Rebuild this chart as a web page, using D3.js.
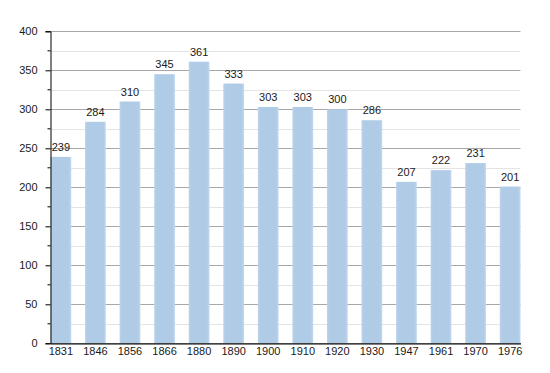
<!DOCTYPE html>
<html><head><meta charset="utf-8">
<script src="https://cdn.jsdelivr.net/npm/d3@7"></script>
<style>
html,body{margin:0;padding:0;background:#fff;}
text{font-family:"Liberation Sans",Arial,sans-serif;font-size:11px;fill:#1a1a1a;}
</style></head>
<body><svg id="c" width="550" height="373"></svg>
<script>
const years = ["1831","1846","1856","1866","1880","1890","1900","1910","1920","1930","1947","1961","1970","1976"];
const population = [239,284,310,345,361,333,303,303,300,286,207,222,231,201];
const majorTicks = [0,50,100,150,200,250,300,350,400];
const minorTicks = [25,75,125,175,225,275,325,375];

(function(){
const svg = d3.select("#c");
const pl = 50.5, pr = 520.5, pt = 31.3, pb = 343.3;

const x = d3.scaleBand().domain(years).range([pl, pr]).paddingInner(0.4).paddingOuter(0);
const y = d3.scaleLinear().domain([0,400]).range([pb, pt]);

const defs = svg.append("defs");
const g = defs.append("linearGradient").attr("id","bg").attr("x1","0").attr("x2","1").attr("y1","0").attr("y2","0");
g.append("stop").attr("offset","0").attr("stop-color","#bcd3ea");
g.append("stop").attr("offset","0.12").attr("stop-color","#afcbe6");
g.append("stop").attr("offset","0.88").attr("stop-color","#afcbe6");
g.append("stop").attr("offset","1").attr("stop-color","#c3d8ee");

// grid
svg.append("g").selectAll("line").data(minorTicks).join("line")
  .attr("x1", pl).attr("x2", pr)
  .attr("y1", d => Math.round(y(d)) + 0.5).attr("y2", d => Math.round(y(d)) + 0.5)
  .attr("stroke", "#e4e4e4").attr("stroke-width", 1);
svg.append("g").selectAll("line").data(majorTicks.filter(d => d > 0)).join("line")
  .attr("x1", pl).attr("x2", pr)
  .attr("y1", d => Math.round(y(d)) + 0.5).attr("y2", d => Math.round(y(d)) + 0.5)
  .attr("stroke", "#a8a8a8").attr("stroke-width", 1);

// bars
svg.append("g").selectAll("rect").data(population).join("rect")
  .attr("x", (d,i) => x(years[i]))
  .attr("width", x.bandwidth())
  .attr("y", d => y(d))
  .attr("height", d => pb - y(d))
  .attr("fill", "url(#bg)");

// value labels
svg.append("g").selectAll("text").data(population).join("text")
  .attr("x", (d,i) => x(years[i]) + x.bandwidth()/2)
  .attr("y", d => y(d) - 6)
  .attr("text-anchor", "middle")
  .text(d => d);

// y axis
const yAxis = d3.axisLeft(y).tickValues(majorTicks).tickSize(5).tickPadding(8);
const ya = svg.append("g").attr("transform", `translate(${pl},0)`).call(yAxis);
ya.select(".domain").attr("stroke", "#000");
ya.selectAll(".tick line").attr("stroke", "#000");
ya.selectAll("text").attr("fill", "#1a1a1a").style("font-size","11px").style("font-family","'Liberation Sans',Arial,sans-serif");
svg.append("g").selectAll("line").data(minorTicks).join("line")
  .attr("x1", pl - 3).attr("x2", pl)
  .attr("y1", d => y(d)).attr("y2", d => y(d))
  .attr("stroke", "#000");

// x axis
const xAxis = d3.axisBottom(x).tickSize(0).tickPadding(4);
const xa = svg.append("g").attr("transform", `translate(0,${pb})`).call(xAxis);
xa.select(".domain").attr("stroke", "#000").attr("stroke-width", 1.3);
xa.selectAll("text").attr("fill", "#1a1a1a").style("font-size","11px").style("font-family","'Liberation Sans',Arial,sans-serif");
})();
</script></body></html>
